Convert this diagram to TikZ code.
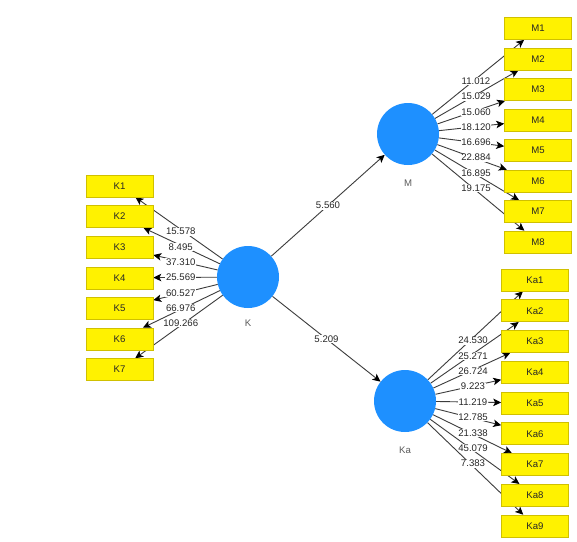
\documentclass[tikz,border=0pt]{standalone}
\usepackage{fontspec}
\setmainfont{Liberation Sans}
\usetikzlibrary{arrows.meta,backgrounds,calc}
\definecolor{lvblue}{HTML}{1E90FF}
\definecolor{boxborder}{HTML}{D0C000}
\definecolor{txtc}{HTML}{262626}
\definecolor{linec}{HTML}{3C3C3C}
\begin{document}
\begin{tikzpicture}[x=1pt,y=-1pt,font=\fontsize{9.6}{11}\selectfont,
  lvnode/.style={circle,fill=lvblue,minimum size=62pt,inner sep=0pt},
  indbox/.style={rectangle,fill=yellow,draw=boxborder,line width=0.6pt,minimum width=67pt,minimum height=22pt,inner sep=0pt,text=txtc},
  conn/.style={draw=linec,line width=0.9pt,-{Stealth[length=8pt,width=7.5pt,inset=2pt,color=black]}},
  wlab/.style={fill=white,inner sep=0.6pt,text=txtc},
  lvlab/.style={text=txtc!75}]
\useasboundingbox (0,0) rectangle (577,541);
% latent variables
\node[lvnode] (K) at (248,277) {};
\node[lvnode] (M) at (408,134) {};
\node[lvnode] (Ka) at (405,401) {};
\node[lvlab] (Klab) at (248,323) {K};
\node[lvlab] (Mlab) at (408,183) {M};
\node[lvlab] (Kalab) at (405,450) {Ka};
% indicators
\foreach \i in {1,...,7} \node[indbox] (K\i) at (119.5,{186+30.6*(\i-1)}) {K\i};
\foreach \i in {1,...,8} \node[indbox] (M\i) at (538,{28.5+30.5*(\i-1)}) {M\i};
\foreach \i in {1,...,9} \node[indbox] (Ka\i) at (535,{280+30.75*(\i-1)}) {Ka\i};
\begin{pgfonlayer}{background}
\fill[white] (0,0) rectangle (577,541);
\draw[conn] (K) -- (M);
\node[wlab] (pKM) at ($(K)!0.5!(M)$) {5.560};
\draw[conn] (K) -- (Ka);
\node[wlab] (pKKa) at ($(K)!0.5!(Ka)$) {5.209};
\foreach \i/\v in {1/15.578,2/8.495,3/37.310,4/25.569,5/60.527,6/66.976,7/109.266}{
  \draw[conn] (K) -- (K\i);
  \node[wlab] (lK\i) at ($(K)!0.5!(K\i)+(-3,0)$) {\v};
}
\foreach \i/\v in {1/11.012,2/15.029,3/15.060,4/18.120,5/16.696,6/22.884,7/16.895,8/19.175}{
  \draw[conn] (M) -- (M\i);
  \node[wlab] (lM\i) at ($(M)!0.5!(M\i)+(3,0)$) {\v};
}
\foreach \i/\v in {1/24.530,2/25.271,3/26.724,4/9.223,5/11.219,6/12.785,7/21.338,8/45.079,9/7.383}{
  \draw[conn] (Ka) -- (Ka\i);
  \node[wlab] (lKa\i) at ($(Ka)!0.5!(Ka\i)+(3,0)$) {\v};
}
\end{pgfonlayer}
\end{tikzpicture}
\end{document}
